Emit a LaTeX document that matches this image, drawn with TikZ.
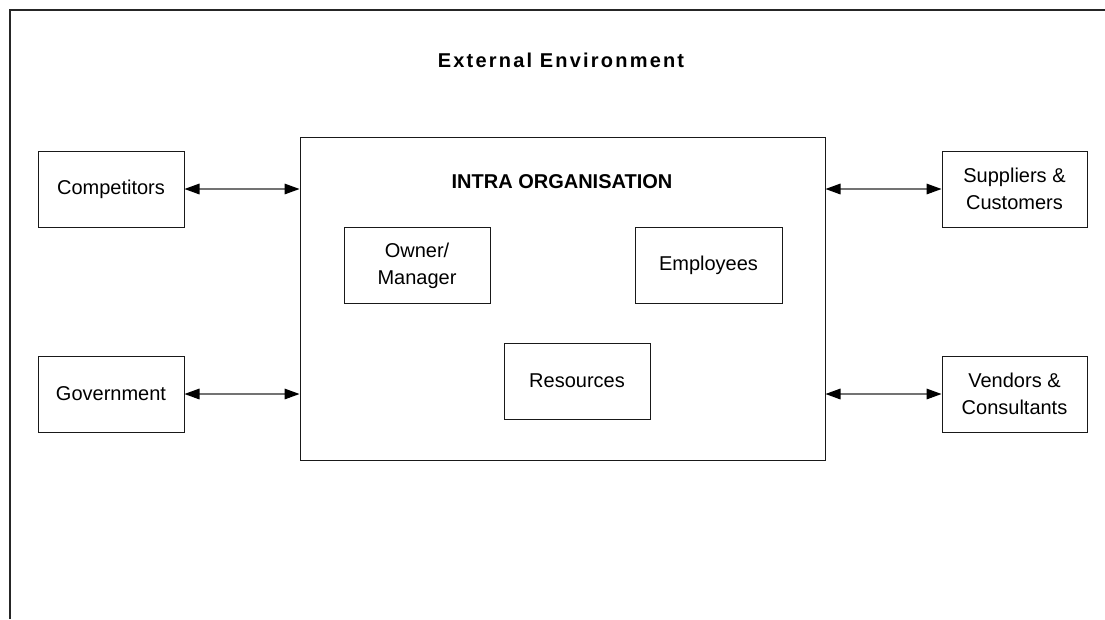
\documentclass[tikz,border=0pt]{standalone}
\usepackage{fontspec}
\usetikzlibrary{arrows.meta}
\setmainfont{Liberation Sans}
\newfontfamily\ttlfont[LetterSpace=11]{Liberation Sans}
\begin{document}
\begin{tikzpicture}[x=0.75pt,y=-0.75pt,
  box/.style={draw=black!90,line width=0.75pt,inner sep=0pt,align=center,
    font=\fontsize{15pt}{20pt}\selectfont},
  sidebox/.style={box,minimum width=109.5pt,minimum height=57pt},
  innerbox/.style={box,minimum width=109.5pt,minimum height=57.5pt},
  link/.style={draw=black!55,line width=0.8pt,
    {Triangle[length=11.25pt,width=8pt,black]}-{Triangle[length=11.25pt,width=8pt,black]}},
  heading/.style={anchor=base,inner sep=0pt,font=\bfseries\fontsize{15pt}{18pt}\selectfont}
]
\useasboundingbox (0,0) rectangle (1105,619);
\draw[line width=1.5pt,black!85] (9.5,619) -- (9.5,9.5) -- (1105,9.5);
\node[heading,font=\ttlfont\bfseries\fontsize{15pt}{18pt}\selectfont] (ext) at (561,67) {External Environment};

\node[box,minimum width=393.75pt,minimum height=242.25pt] (main) at (562.5,298.5) {};
\node[heading] (intra) at (562,188) {INTRA ORGANISATION};

\node[sidebox] (comp) at (111,189) {Competitors};
\node[sidebox] (gov) at (111,394) {Government};
\node[sidebox,minimum width=108.75pt] (supp) at (1014.5,189) {Suppliers \&\\Customers};
\node[sidebox,minimum width=108.75pt] (vend) at (1014.5,394) {Vendors \&\\Consultants};

\node[innerbox] (own) at (417,265.5) {Owner/\\Manager};
\node[innerbox,minimum width=110.25pt] (emp) at (708.5,265.5) {Employees};
\node[innerbox,minimum height=57pt] (res) at (577,381) {Resources};

\draw[link] (comp.east) -- (comp.east -| main.west);
\draw[link] (gov.east) -- (gov.east -| main.west);
\draw[link] (supp.west -| main.east) -- (supp.west);
\draw[link] (vend.west -| main.east) -- (vend.west);
\end{tikzpicture}
\end{document}
